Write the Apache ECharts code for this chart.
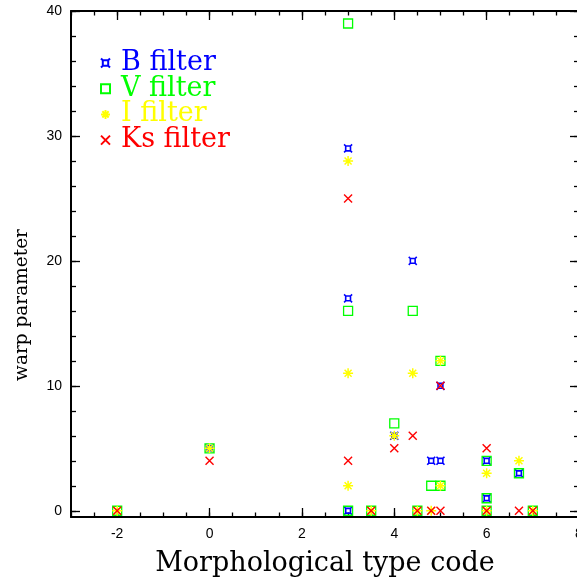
<!DOCTYPE html>
<html>
<head>
<meta charset="utf-8">
<script src="https://cdn.jsdelivr.net/npm/echarts@6/dist/echarts.min.js"></script>
<style>
html,body{margin:0;padding:0;background:#fff;}
#chart{width:577px;height:581px;}
</style>
</head>
<body>
<div id="chart"></div>
<script>
// ---- data (morphological type code, warp parameter) ----
const bFilter = [[3,29],[3,17],[4.4,20],[5,10],[4.8,4],[5,4],[4,6],[6,4],[6,1],[6.7,3],[3,0],[0,5]];
const vFilter = [[3,39],[3,16],[4.4,16],[5,12],[4,7],[4.8,2],[5,2],[6,4],[6,1],[6.7,3],[3,0],[0,5],[-2,0],[3.5,0],[4.5,0],[6,0],[7,0]];
const iFilter = [[3,28],[3,11],[4.4,11],[5,12],[4,6],[5,2],[6,3],[6.7,4],[3,2],[0,5],[-2,0],[3.5,0],[4.5,0],[4.8,0],[6,0],[7,0]];
const ksFilter = [[3,25],[3,4],[4,5],[4.4,6],[5,10],[6,5],[0,4],[-2,0],[3.5,0],[4.5,0],[4.8,0],[5,0],[6,0],[6.7,0],[7,0]];
const seriesNames = ['B filter','V filter','I filter','Ks filter'];
const xTitle = 'Morphological type code';
const yTitle = 'warp parameter';
const xMajorTicks = [-2,0,2,4,6,8];
const xMinorTicks = [-3,-2.5,-2,-1.5,-1,-0.5,0,0.5,1,1.5,2,2.5,3,3.5,4,4.5,5,5.5,6,6.5,7,7.5,8];
const yMajorTicks = [0,10,20,30,40];
const yMinorTicks = [0,2,4,6,8,10,12,14,16,18,20,22,24,26,28,30,32,34,36,38,40];

const XMIN=-3, XMAX=8, YMIN=-0.5, YMAX=40;
const colors = ['#0000ff','#00ff00','#ffff00','#ff0000'];
const symB = 'path://M1.6,1.6 L6.4,1.6 L6.4,6.4 L1.6,6.4 Z M0,0 L1.6,1.6 M8,0 L6.4,1.6 M8,8 L6.4,6.4 M0,8 L1.6,6.4';
const symI = 'path://M4,0 L4,8 M0,4 L8,4 M1.2,1.2 L6.8,6.8 M6.8,1.2 L1.2,6.8';
const symK = 'path://M0,0 L8,8 M8,0 L0,8';

function xAx(pos, ticks, len, showLabel, showLine, extra){
  return Object.assign({
    type:'value', min:XMIN, max:XMAX, position:pos,
    axisLine:{show:showLine, onZero:false, lineStyle:{color:'#000', width:2}},
    axisTick:{show:true, inside:true, length:len, customValues:ticks, lineStyle:{color:'#000', width:1.3}},
    axisLabel:{show:showLabel, customValues:ticks, color:'#000', fontFamily:'Liberation Sans', fontSize:14, margin:10},
    splitLine:{show:false}
  }, extra||{});
}
function yAx(pos, ticks, len, showLabel, showLine, extra){
  return Object.assign({
    type:'value', min:YMIN, max:YMAX, position:pos,
    axisLine:{show:showLine, onZero:false, lineStyle:{color:'#000', width:2}},
    axisTick:{show:true, inside:true, length:len, customValues:ticks, lineStyle:{color:'#000', width:1.3}},
    axisLabel:{show:showLabel, customValues:ticks, color:'#000', fontFamily:'Liberation Sans', fontSize:14, margin:9},
    splitLine:{show:false}
  }, extra||{});
}

const chart = echarts.init(document.getElementById('chart'), null, {renderer:'canvas'});
const option = {
  animation:false,
  backgroundColor:'#fff',
  grid:{left:71, right:-2, top:11, bottom:64, containLabel:false, outerBoundsMode:'none'},
  xAxis:[
    xAx('bottom', xMajorTicks, 9, true, true, {
      name:xTitle, nameLocation:'middle', nameGap:33,
      nameTextStyle:{fontFamily:'DejaVu Serif', fontSize:27, color:'#000'}
    }),
    xAx('bottom', xMinorTicks, 4.5, false, false),
    xAx('top', xMajorTicks, 9, false, true),
    xAx('top', xMinorTicks, 4.5, false, false)
  ],
  yAxis:[
    yAx('left', yMajorTicks, 9, true, true),
    yAx('left', yMinorTicks, 5, false, false),
    yAx('right', yMajorTicks, 9, false, true),
    yAx('right', yMinorTicks, 5, false, false)
  ],
  graphic:[{
    type:'text', x:22, y:305, rotation:Math.PI/2,
    style:{text:yTitle, fontFamily:'DejaVu Serif', fontSize:18.5, fill:'#000', align:'center', verticalAlign:'middle'}
  }],
  legend:{
    orient:'vertical', left:95, top:44.5, itemGap:-1.3,
    itemWidth:9, itemHeight:9,
    textStyle:{fontFamily:'DejaVu Serif', fontSize:27, padding:[0,0,0,6]},
    data: seriesNames.map((n,i)=>({name:n, textStyle:{color:colors[i]}}))
  },
  series:[
    {name:seriesNames[0], type:'scatter', data:bFilter, symbol:symB, symbolSize:8,
     itemStyle:{color:'rgba(0,0,0,0)', borderColor:colors[0], borderWidth:1.6, opacity:1}},
    {name:seriesNames[1], type:'scatter', data:vFilter, symbol:'rect', symbolSize:9,
     itemStyle:{color:'rgba(0,0,0,0)', borderColor:colors[1], borderWidth:1.3, opacity:1}},
    {name:seriesNames[2], type:'scatter', data:iFilter, symbol:symI, symbolSize:10,
     itemStyle:{color:'rgba(0,0,0,0)', borderColor:colors[2], borderWidth:1.5, opacity:1}},
    {name:seriesNames[3], type:'scatter', data:ksFilter, symbol:symK, symbolSize:8,
     itemStyle:{color:'rgba(0,0,0,0)', borderColor:colors[3], borderWidth:1.4, opacity:1}}
  ]
};
chart.setOption(option);
</script>
</body>
</html>
